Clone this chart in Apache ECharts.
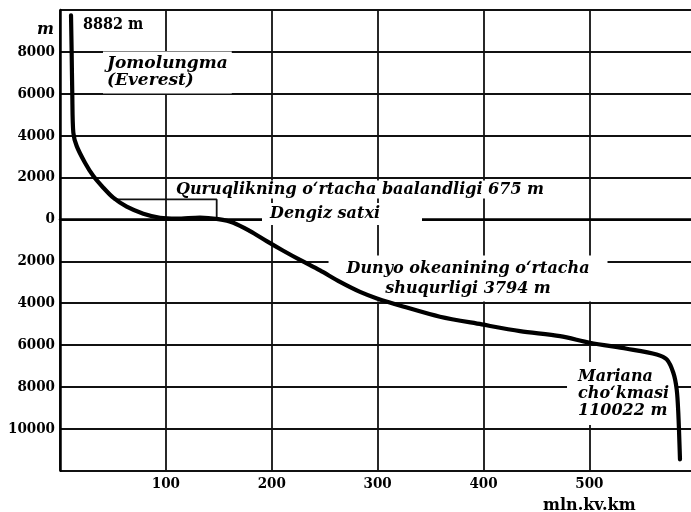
<!DOCTYPE html>
<html><head><meta charset="utf-8">
<script src="https://cdn.jsdelivr.net/npm/echarts@6/dist/echarts.min.js"></script>
<style>html,body{margin:0;padding:0;background:#fff}#c{width:691px;height:512px}</style>
</head><body><div id="c"></div>
<script>
// Hypsographic curve: cumulative area (mln km²) vs elevation (m)
const curveArea = [10.4, 11.0, 11.6, 12.6, 15.8, 23.6, 31.5, 40.9, 50.3, 63.0, 78.7, 94.5, 110.2, 132.2, 149.5, 163.7, 179.5, 195.2, 210.9, 226.7, 245.6, 264.5, 283.4, 299.4, 324.0, 358.9, 398.3, 434.5, 472.3, 500.6, 535.3, 563.6, 573.1, 579.3, 582.5, 584.0, 585.6];
const curveElevation = [9750, 8000, 6000, 4140, 3500, 2707, 2068, 1514, 1036, 606, 272, 80, 40, 90, 10, -158, -559, -1036, -1495, -1934, -2436, -2985, -3462, -3773, -4155, -4647, -5014, -5334, -5573, -5888, -6175, -6447, -6686, -7321, -8118, -9231, -11461];
// mean land height marker
const meanLandArea = [50.3, 148, 148];
const meanLandElevation = [955, 955, 0];
// axis ticks
const xTickLabels = [100, 200, 300, 400, 500];
const yTickLabels = [8000, 6000, 4000, 2000, 0, -2000, -4000, -6000, -8000, -10000];
// annotations
const noteTexts = ['8882 m', 'Jomolungma\n(Everest)', 'Quruqlikning o‘rtacha baalandligi 675 m', 'Dengiz satxi', 'Dunyo okeanining o‘rtacha\nshuqurligi 3794 m', 'Mariana\ncho‘kmasi\n110022 m'];
const noteArea = [21.7, 40.6, 107.7, 190.8, 385.4, 478.9];
const noteElevation = [9288, 7020, 1433, 263, -2818, -8309];

const tickFamily = '"DejaVu Serif Condensed", "DejaVu Serif", serif';
const noteFamily = '"DejaVu Serif", serif';
const noteStyles = [
  {fontStyle: 'normal', fontWeight: 'bold', fontFamily: tickFamily, fontSize: 16, align: 'left'},
  {align: 'left', lineHeight: 17, padding: [4, 4, 4, 4], backgroundColor: '#fff', fontSize: 17},
  {align: 'left', padding: [1, 2, 1, 2], backgroundColor: '#fff'},
  {align: 'left', padding: [3, 42, 3, 8], backgroundColor: '#fff'},
  {align: 'center', lineHeight: 20, padding: [3, 18, 3, 18], backgroundColor: '#fff'},
  {align: 'left', lineHeight: 17, padding: [6, 8, 6, 11], backgroundColor: '#fff'}
];

const chart = echarts.init(document.getElementById('c'), null, {renderer: 'canvas'});
chart.setOption({
  animation: false,
  backgroundColor: '#fff',
  grid: {left: 60, top: 10, right: -110.1, bottom: 41.3, containLabel: false, outerBoundsMode: 'none'},
  xAxis: {
    type: 'value', min: 0, max: 700, interval: 100,
    axisLine: {show: true, lineStyle: {color: '#000', width: 2.5}},
    axisTick: {show: false},
    splitLine: {show: true, showMaxLine: false, lineStyle: {color: '#111', width: 1.8}},
    axisLabel: {
      margin: 6, color: '#000', fontFamily: tickFamily, fontWeight: 'bold', fontSize: 15,
      formatter: v => xTickLabels.includes(v) ? String(v) : ''
    }
  },
  yAxis: {
    type: 'value', min: -12000, max: 10000, interval: 2000,
    axisLine: {show: true, onZero: false, lineStyle: {color: '#000', width: 2.5}},
    axisTick: {show: false},
    splitLine: {show: true, lineStyle: {color: '#111', width: 1.8}},
    axisLabel: {
      margin: 5, color: '#000', fontFamily: tickFamily, fontWeight: 'bold', fontSize: 15,
      formatter: v => yTickLabels.includes(v) ? String(Math.abs(v)) : ''
    }
  },
  graphic: [
    {type: 'text', left: 37, top: 22, z: 10, style: {text: 'm', font: 'italic bold 16px "DejaVu Serif", serif', fill: '#000'}},
    {type: 'text', left: 543, top: 498, z: 10, style: {text: 'mln.kv.km', font: 'bold 16px "DejaVu Serif", serif', fill: '#000'}}
  ],
  series: [
    {
      type: 'scatter', z: 1, silent: true, symbolSize: 1,
      itemStyle: {color: 'rgba(0,0,0,0)', opacity: 1},
      emphasis: {disabled: true},
      data: noteTexts.map((t, i) => ({
        value: [noteArea[i], noteElevation[i]],
        label: Object.assign({
          show: true, position: 'inside', formatter: t, verticalAlign: 'middle', opacity: 1,
          color: '#000', fontFamily: noteFamily, fontStyle: 'italic', fontWeight: 'bold', fontSize: 16
        }, noteStyles[i])
      }))
    },
    {
      type: 'line', z: 3, silent: true, symbol: 'none',
      lineStyle: {color: '#111', width: 1.8},
      data: meanLandArea.map((x, i) => [x, meanLandElevation[i]])
    },
    {
      type: 'line', z: 4, silent: true, symbol: 'none', smooth: 0.3,
      lineStyle: {color: '#000', width: 4.2, cap: 'round', join: 'round'},
      data: curveArea.map((x, i) => [x, curveElevation[i]])
    }
  ]
});
</script>
</body></html>
